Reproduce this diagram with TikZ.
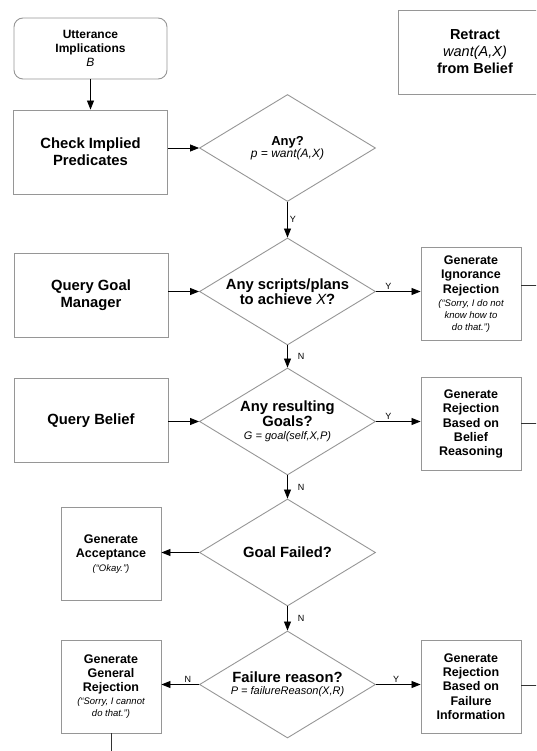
\documentclass[tikz,border=0pt]{standalone}
\usepackage{fontspec}
\setmainfont{Liberation Sans}
\usetikzlibrary{shapes.geometric,arrows.meta}
\definecolor{EdgeGray}{RGB}{150,150,150}
\newcommand{\hugefnt}{\fontsize{14.8}{17}\selectfont\bfseries}
\newcommand{\midfnt}{\fontsize{12.5}{14.3}\selectfont\bfseries}
\newcommand{\smlfnt}{\fontsize{12}{14}\selectfont\bfseries}
\newcommand{\quotefnt}{\fontsize{9.5}{12}\selectfont\mdseries\itshape}
\newcommand{\formfnt}{\fontsize{11}{12}\selectfont\mdseries\itshape}
\tikzset{
  box/.style={rectangle,draw=EdgeGray,line width=0.9pt,fill=white,inner sep=2pt,align=center},
  widebox/.style={box,minimum width=154pt,minimum height=84pt,font=\hugefnt},
  narrowbox/.style={box,minimum width=100pt,minimum height=93pt,font=\midfnt},
  decide/.style={diamond,draw=EdgeGray,line width=0.9pt,aspect=1.645,inner sep=0pt,
    minimum width=176pt,minimum height=107pt,align=center},
  arrow/.style={draw=black,line width=0.8pt,-{Triangle[length=9pt,width=7pt]}},
  line/.style={draw=black!80,line width=0.8pt},
  yn/.style={font=\fontsize{9}{10}\selectfont,inner sep=2pt},
}
\begin{document}
\begin{tikzpicture}[x=1pt,y=-1pt]
\useasboundingbox (0,0) rectangle (536,751);
\clip (0,0) rectangle (536,751);
% left column
\node[box,rounded corners=9pt,minimum width=153pt,minimum height=61pt,font=\smlfnt] (utter) at (90.5,48.5)
  {Utterance\\Implications\\\mdseries\itshape B};
\node[widebox] (check) at (90.5,152) {Check Implied\\Predicates};
\node[widebox] (qgm) at (91,295) {Query Goal\\Manager};
\node[widebox] (qbel) at (91,420.5) {Query Belief};
\node[narrowbox] (accept) at (111,554) {Generate\\Acceptance\\[-1pt]\quotefnt (“Okay.”)};
\node[narrowbox] (general) at (111,686.5) {Generate\\General\\Rejection\\[-1pt]\quotefnt (“Sorry, I cannot\\[-2.5pt]\quotefnt do that.”)};
% decisions
\node[decide] (any) at (287.5,148) {\fontsize{13}{15}\selectfont\bfseries Any?\\\fontsize{12}{13}\selectfont\itshape p = want(A,X)};
\node[decide] (scripts) at (287.5,291.5) {\hugefnt Any scripts/plans\\\hugefnt to achieve {\mdseries\itshape X}?};
\node[decide] (goals) at (287.5,421.5) {\hugefnt Any resulting\\\hugefnt Goals?\\[1pt]\formfnt G = goal(self,X,P)};
\node[decide] (failed) at (287.5,552.5) {\hugefnt Goal Failed?};
\node[decide] (failure) at (287.5,684.5) {\hugefnt Failure reason?\\\formfnt P = failureReason(X,R)};
% right column
\node[box,minimum width=154pt,minimum height=84pt,font=\fontsize{14.5}{17}\selectfont\bfseries] (retract) at (475,52)
  {Retract\\\mdseries\itshape want(A,X)\\from Belief};
\node[narrowbox] (ignor) at (471,294) {Generate\\Ignorance\\Rejection\\[-1pt]\quotefnt (“Sorry, I do not\\[-2.5pt]\quotefnt know how to\\[-2.5pt]\quotefnt do that.”)};
\node[narrowbox] (rbel) at (471,424) {Generate\\Rejection\\Based on\\Belief\\Reasoning};
\node[narrowbox] (finfo) at (471,686.5) {Generate\\Rejection\\Based on\\Failure\\Information};
% free ends
\coordinate (ignorend) at (540,285);
\coordinate (rbelend) at (540,423);
\coordinate (finfoend) at (540,685);
\coordinate (generalend) at (111,760);
% connectors
\draw[arrow] (utter.south) -- (check.north);
\draw[arrow] (check.east |- any.west) -- (any.west);
\draw[arrow] (qgm.east |- scripts.west) -- (scripts.west);
\draw[arrow] (qbel.east |- goals.west) -- (goals.west);
\draw[arrow] (any.south) -- node[yn,right] (anyY) {Y} (scripts.north);
\draw[arrow] (scripts.south) -- node[yn,right=8pt] (scriptsN) {N} (goals.north);
\draw[arrow] (goals.south) -- node[yn,right=8pt] (goalsN) {N} (failed.north);
\draw[arrow] (failed.south) -- node[yn,right=8pt] (failedN) {N} (failure.north);
\draw[arrow] (scripts.east) -- node[yn,above,pos=0.28] (scriptsY) {Y} (ignor.west |- scripts.east);
\draw[arrow] (goals.east) -- node[yn,above,pos=0.28] (goalsY) {Y} (rbel.west |- goals.east);
\draw[arrow] (failed.west) -- (accept.east |- failed.west);
\draw[arrow] (failure.west) -- node[yn,above,pos=0.3] (failureN) {N} (general.east |- failure.west);
\draw[arrow] (failure.east) -- node[yn,above,pos=0.45] (failureY) {Y} (finfo.west |- failure.east);
\draw[line] (ignor.east |- ignorend) -- (ignorend);
\draw[line] (rbel.east |- rbelend) -- (rbelend);
\draw[line] (finfo.east |- finfoend) -- (finfoend);
\draw[line] (general.south) -- (generalend);
\end{tikzpicture}
\end{document}
